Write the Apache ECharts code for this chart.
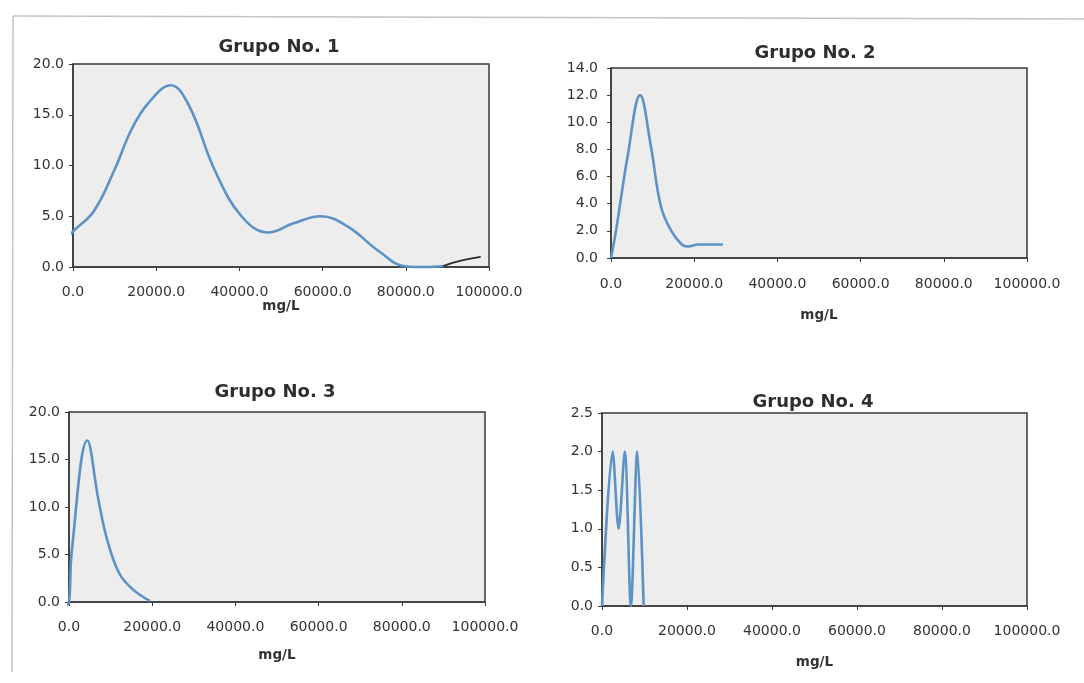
<!DOCTYPE html>
<html>
<head>
<meta charset="utf-8">
<script src="https://cdn.jsdelivr.net/npm/echarts@6/dist/echarts.min.js"></script>
<style>
html,body{margin:0;padding:0;background:#fff;}
#c{width:1084px;height:683px;}
</style>
</head>
<body>
<div id="c"></div>
<script>
// ---- data ----
const titles = ['Grupo No. 1', 'Grupo No. 2', 'Grupo No. 3', 'Grupo No. 4'];
const xAxisName = 'mg/L';
const xTicks = [0, 20000, 40000, 60000, 80000, 100000];

const g1x = [-1700, 0, 5000, 10000, 14000, 18000, 23500, 28000, 34000, 40500, 47000, 53000, 59500, 66000, 73700, 80000, 85000, 89000];
const g1y = [2.7, 3.5, 5.5, 9.6, 13.5, 16.1, 17.9, 15.8, 9.6, 5.0, 3.4, 4.3, 5.0, 4.0, 1.5, 0.05, 0.0, 0.1];
const g1tailX = [89000, 93000, 98000];
const g1tailY = [0.1, 0.6, 1.0];

const g2x = [0, 1200, 4000, 7000, 9500, 12000, 14500, 17000, 18500, 21000, 26900];
const g2y = [0, 2.0, 7.5, 12.0, 8.4, 3.8, 2.0, 1.0, 0.85, 1.0, 1.0];

const g3x = [-800, 0, 700, 4400, 7100, 9200, 12100, 15400, 19500];
const g3y = [-0.4, 0, 5.5, 17.0, 10.7, 6.5, 3.0, 1.3, 0.1];

const g4x = [0, 2500, 3900, 5350, 6800, 8300, 9800];
const g4y = [0, 2.0, 1.0, 2.0, 0, 2.0, 0];

const yCfg = [
  {min: 0, max: 20, interval: 5},
  {min: 0, max: 14, interval: 2},
  {min: 0, max: 20, interval: 5},
  {min: 0, max: 2.5, interval: 0.5}
];

// ---- layout ----
const grids = [
  {left: 73, top: 64, width: 416, height: 203},
  {left: 611, top: 68, width: 416, height: 190},
  {left: 69, top: 412, width: 416, height: 190},
  {left: 602, top: 413, width: 425, height: 193}
];
const nameGaps = [30, 50, 46, 49];
const yMargins = [9, 13, 9, 9];
const xMargins = [18, 19, 18, 18];
const titlePos = [[279, 47], [815, 53], [275, 392], [813, 402]];

const pair = (xs, ys) => xs.map((x, i) => [x, ys[i]]);
const lineColor = '#5b93c7';
const font = '"DejaVu Sans", "Liberation Sans", Arial, sans-serif';

const option = {
  backgroundColor: '#ffffff',
  animation: false,
  grid: grids.map(g => Object.assign({
    show: true, backgroundColor: '#ededed', borderColor: '#3a3a3a', borderWidth: 1.5, containLabel: false
  }, g)),
  xAxis: grids.map((g, i) => ({
    type: 'value', gridIndex: i, min: 0, max: 100000, interval: 20000,
    name: xAxisName, nameLocation: 'middle', nameGap: nameGaps[i],
    nameTextStyle: {fontFamily: font, fontWeight: 'bold', fontSize: 13.5, color: '#333'},
    axisLine: {show: true, onZero: false, lineStyle: {color: '#3a3a3a', width: 1.5}},
    axisTick: {show: true, length: 4, lineStyle: {color: '#3a3a3a'}},
    splitLine: {show: false},
    axisLabel: {fontFamily: font, fontSize: 14, color: '#333', margin: xMargins[i],
      formatter: v => v.toFixed(1)}
  })),
  yAxis: grids.map((g, i) => ({
    type: 'value', gridIndex: i, min: yCfg[i].min, max: yCfg[i].max, interval: yCfg[i].interval,
    axisLine: {show: true, lineStyle: {color: '#3a3a3a', width: 1.5}},
    axisTick: {show: true, length: 4, lineStyle: {color: '#3a3a3a'}},
    splitLine: {show: false},
    axisLabel: {fontFamily: font, fontSize: 14, color: '#333', margin: yMargins[i],
      formatter: v => v.toFixed(1)}
  })),
  series: [
    {data: pair(g1x, g1y), idx: 0},
    {data: pair(g1tailX, g1tailY), idx: 0, color: '#2b2b2b', width: 1.8},
    {data: pair(g2x, g2y), idx: 1},
    {data: pair(g3x, g3y), idx: 2},
    {data: pair(g4x, g4y), idx: 3, smooth: 0.3}
  ].map(s => ({
    type: 'line', xAxisIndex: s.idx, yAxisIndex: s.idx, data: s.data,
    smooth: s.smooth !== undefined ? s.smooth : 0.4, showSymbol: false, clip: false,
    lineStyle: {color: s.color || lineColor, width: s.width || 2.6}
  })),
  graphic: [
    {type: 'line', shape: {x1: 13, y1: 16, x2: 1084, y2: 19}, style: {stroke: '#c4c4c4', lineWidth: 1.5}},
    {type: 'line', shape: {x1: 13, y1: 16, x2: 12, y2: 672}, style: {stroke: '#c4c4c4', lineWidth: 1.5}}
  ].concat(titles.map((t, i) => ({
    type: 'text',
    x: titlePos[i][0],
    y: titlePos[i][1],
    style: {text: t, font: 'bold 18px ' + font, fill: '#2e2e2e', textAlign: 'center', textVerticalAlign: 'middle'}
  })))
};

const chart = echarts.init(document.getElementById('c'));
chart.setOption(option);
</script>
</body>
</html>
